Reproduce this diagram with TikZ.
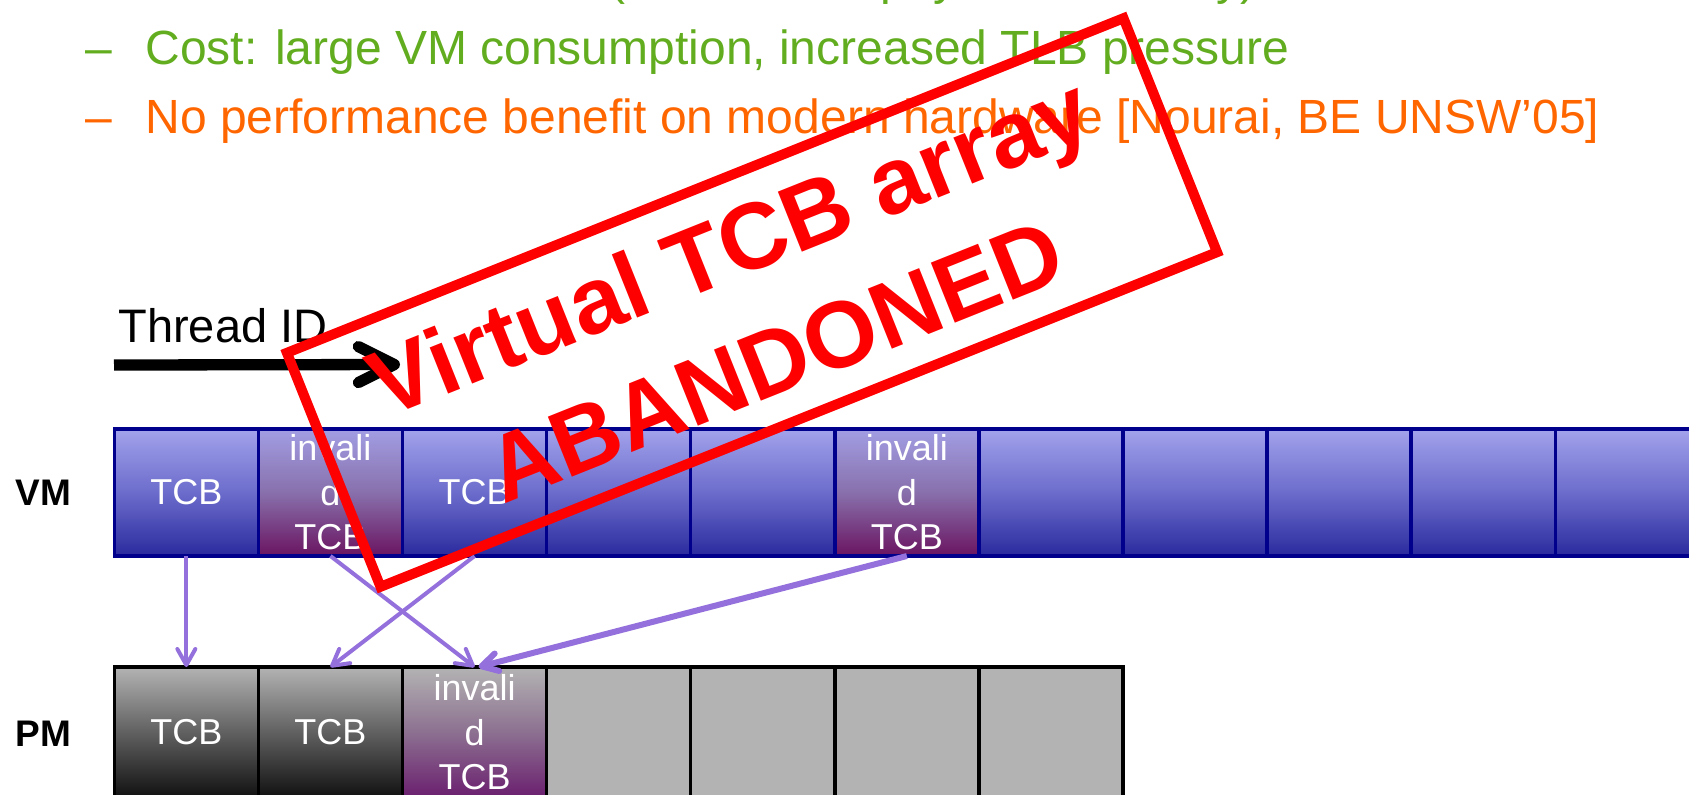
\documentclass[tikz,border=0pt]{standalone}
\usepackage{fontspec}
\setmainfont{Liberation Sans}
\usetikzlibrary{arrows.meta}

\definecolor{vmtop}{HTML}{A2A2EC}
\definecolor{vmmid}{HTML}{6C6CCC}
\definecolor{vmbot}{HTML}{2A2A9E}
\definecolor{vmedge}{HTML}{00008C}
\definecolor{badtop}{HTML}{A29EE4}
\definecolor{badmid}{HTML}{8870AC}
\definecolor{badbot}{HTML}{6A1460}
\definecolor{pmgray}{HTML}{B3B3B3}
\definecolor{pmbot}{HTML}{101010}
\definecolor{pmmid}{HTML}{606060}
\definecolor{pmbadmid}{HTML}{8C7090}
\definecolor{pmbadbot}{HTML}{6A1E6E}
\definecolor{mapcol}{HTML}{9370DB}
\definecolor{costgreen}{HTML}{62AD1F}
\definecolor{perforange}{HTML}{FF6600}
\definecolor{stampred}{HTML}{FF0000}

\tikzset{
  cellbase/.style={rectangle, minimum width=72.05pt, minimum height=63.5pt,
    inner sep=0pt, outer sep=0pt, line width=1.75pt, text=white, align=center,
    font=\fontsize{18}{22.25}\selectfont},
  vmcell/.style={cellbase, draw=vmedge, top color=vmtop, bottom color=vmbot, middle color=vmmid},
  vmbad/.style={cellbase, draw=vmedge, top color=badtop, bottom color=badbot, middle color=badmid},
  pmcell/.style={cellbase, minimum height=65.5pt, draw=black, fill=pmgray},
  pmtcb/.style={cellbase, minimum height=65.5pt, draw=black, top color=pmgray, bottom color=pmbot, middle color=pmmid},
  pmbad/.style={cellbase, minimum height=65.5pt, draw=black, top color=pmgray, bottom color=pmbadbot, middle color=pmbadmid},
  rowlabel/.style={inner sep=0pt, anchor=west, font=\bfseries\fontsize{18.5}{22}\selectfont},
  bodyline/.style={inner sep=0pt, anchor=base west, font=\fontsize{24}{28}\selectfont},
  mapping/.style={draw=mapcol, line width=2pt, -{Straight Barb[length=8pt,width=9pt,round]}},
  idarrow/.style={draw=black, line width=5.65pt, -{Straight Barb[length=18pt,width=18pt,round]}},
  stampbox/.style={draw=stampred, line width=5pt, text=stampred, rectangle,
    minimum width=450.5pt, minimum height=126pt, inner sep=0pt, align=center,
    font=\bfseries\fontsize{47}{61.5}\selectfont},
}

\begin{document}
\begin{tikzpicture}[x=0.5pt,y=-0.5pt]
\useasboundingbox (0,0) rectangle (1689,794);
\clip (0,0) rectangle (1689,794);

% bullet text
\node[bodyline, text=costgreen] (paren) at (609,-5.3) {(};
\node[bodyline, text=costgreen] (physmem) at (880,-5.3) {physical memory)};
\node[bodyline, text=costgreen] (dashcost) at (85,64) {–};
\node[bodyline, text=costgreen] (cost) at (145,64) {Cost: large VM consumption, increased TLB pressure};
\node[bodyline, text=perforange] (dashperf) at (85,133.3) {–};
\node[bodyline, text=perforange] (perf) at (145,133.3) {No performance benefit on modern hardware [Nourai, BE UNSW’05]};

% thread ID index arrow
\node[inner sep=0pt, anchor=base west, font=\fontsize{23.5}{28}\selectfont] (tid) at (118,342.7) {Thread ID};
\coordinate (tidstart) at (114,365);
\coordinate (tidend) at (400,364.5);
\draw[idarrow] (tidstart) -- (tidend);

% virtual memory row
\node[rowlabel] (vmlabel) at (15,492.5) {VM};
\node[vmcell] (vm1)  at (186.35,492.5) {TCB};
\node[vmbad]  (vm2)  at (330.45,492.5) {invali\\d\\TCB};
\node[vmcell] (vm3)  at (474.55,492.5) {TCB};
\node[vmcell] (vm4)  at (618.65,492.5) {};
\node[vmcell] (vm5)  at (762.75,492.5) {};
\node[vmbad]  (vm6)  at (906.85,492.5) {invali\\d\\TCB};
\node[vmcell] (vm7)  at (1050.95,492.5) {};
\node[vmcell] (vm8)  at (1195.05,492.5) {};
\node[vmcell] (vm9)  at (1339.15,492.5) {};
\node[vmcell] (vm10) at (1483.25,492.5) {};
\node[vmcell] (vm11) at (1627.35,492.5) {};

% physical memory row
\node[rowlabel] (pmlabel) at (15,733.5) {PM};
\node[pmtcb]  (pm1) at (186.35,732.5) {TCB};
\node[pmtcb]  (pm2) at (330.45,732.5) {TCB};
\node[pmbad]  (pm3) at (474.55,732.5) {invali\\d\\TCB};
\node[pmcell] (pm4) at (618.65,732.5) {};
\node[pmcell] (pm5) at (762.75,732.5) {};
\node[pmcell] (pm6) at (906.85,732.5) {};
\node[pmcell] (pm7) at (1050.95,732.5) {};

% mappings from virtual to physical
\draw[mapping] (vm1.south) -- (pm1.north);
\draw[mapping] (vm2.south) -- (pm3.north);
\draw[mapping] (vm3.south) -- (pm2.north);
\draw[mapping, line width=3pt] (vm6.south) -- ([xshift=2pt]pm3.north);

% stamp on top
\node[stampbox, rotate=21.8] (stamp) at (752,302.5) {Virtual TCB array\\ABANDONED};
\end{tikzpicture}
\end{document}
